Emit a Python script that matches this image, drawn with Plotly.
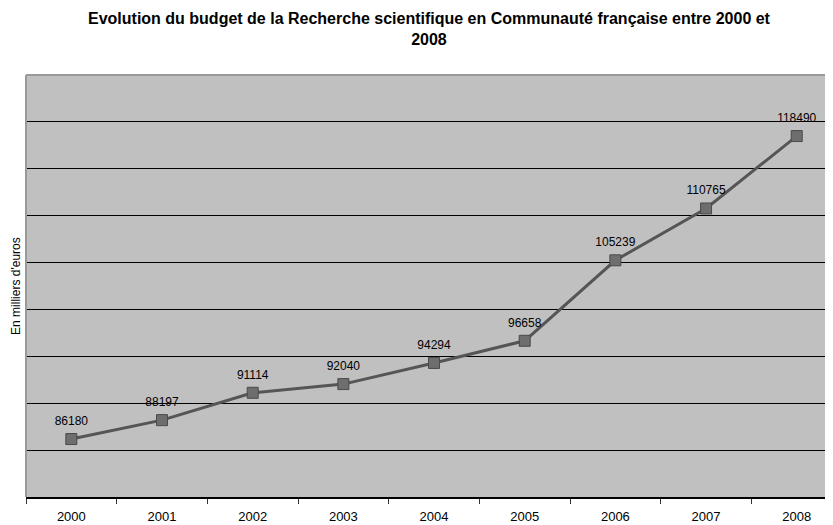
import plotly.graph_objects as go

years = ["2000", "2001", "2002", "2003", "2004", "2005", "2006", "2007", "2008"]
budget = [86180, 88197, 91114, 92040, 94294, 96658, 105239, 110765, 118490]
labels = [str(v) for v in budget]

title_text = "Evolution du budget de la Recherche scientifique en Communauté française entre 2000 et<br>2008"
y_title = "En milliers d'euros"

fig = go.Figure()
fig.add_trace(go.Scatter(
    x=years, y=budget,
    mode="lines+markers",
    line=dict(color="#555555", width=3),
    marker=dict(symbol="square", size=11, color="#6e6e6e",
                line=dict(color="#4a4a4a", width=1)),
    showlegend=False, hoverinfo="skip",
))
fig.add_trace(go.Scatter(
    x=years, y=budget, text=labels,
    mode="markers+text",
    textposition="top center",
    textfont=dict(family="Liberation Sans, Arial", size=12, color="black"),
    marker=dict(size=16, opacity=0),
    cliponaxis=False,
    showlegend=False,
))

fig.update_layout(
    width=825, height=517,
    paper_bgcolor="white",
    plot_bgcolor="#c0c0c0",
    margin=dict(l=18, r=0, t=67, b=28),
    font=dict(family="Liberation Sans, Arial", color="black"),
    xaxis=dict(type="category", range=[-0.5, 8.4], tickson="boundaries",
               ticks="outside", ticklen=5, tickcolor="#333333", tickwidth=1,
               ticklabelstandoff=7,
               showline=True, linecolor="black", linewidth=1.5,
               showgrid=False, zeroline=False, automargin=False,
               tickfont=dict(size=13, color="black")),
    yaxis=dict(range=[80000, 125000], dtick=5000, tick0=80000,
               showticklabels=False, ticks="",
               showgrid=True, gridcolor="black", gridwidth=1.3,
               zeroline=False, showline=False, automargin=False),
    annotations=[
        dict(text=title_text, xref="paper", yref="paper",
             x=0.5, y=1.158, xanchor="center", yanchor="top", showarrow=False,
             font=dict(family="Liberation Sans, Arial", size=16, color="black",
                       weight="bold")),
        dict(text=y_title, textangle=-90, xref="paper", yref="paper",
             x=-0.0125, y=0.5, xanchor="center", yanchor="middle",
             showarrow=False, font=dict(size=12, color="black")),
    ],
    shapes=[
        dict(type="line", xref="paper", yref="paper", x0=0, x1=1, y0=1, y1=1,
             line=dict(color="#9a9a9a", width=2)),
        dict(type="line", xref="paper", yref="paper", x0=0, x1=0, y0=0, y1=1,
             line=dict(color="#9a9a9a", width=2)),
    ],
)

fig.write_html("out.html")
